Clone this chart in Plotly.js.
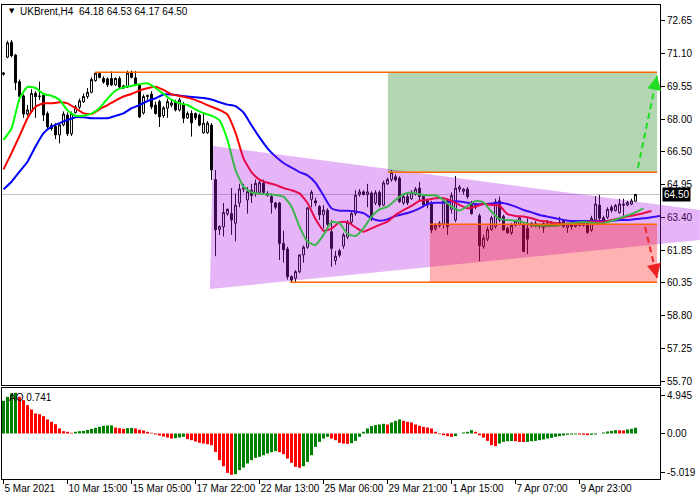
<!DOCTYPE html>
<html>
<head>
<meta charset="utf-8">
<script src="https://cdn.plot.ly/plotly-3.0.1.min.js"></script>
<style>
  html, body { margin: 0; padding: 0; background: #fff; }
  #chart { width: 700px; height: 500px; }
</style>
</head>
<body>
<div id="chart"></div>
<script>
// UKBrent H4 candles, bar 0 = 5 Mar 2021
var open = [70.15, 70.95, 71.65, 71.05, 69.8, 69.13, 68.28, 68.4, 69.25, 69.1,
  69.17, 68.3, 67.75, 67.7, 67.3, 67.77, 68.23, 67.35, 68.35, 68.6,
  68.85, 69.1, 69.3, 69.85, 70.18, 69.95, 69.93, 69.95, 69.65, 69.95,
  69.6, 69.55, 70.2, 69.98, 69.64, 68.33, 69.1, 69.22, 68.7, 68.86,
  68.2, 68.55, 68.7, 68.86, 68.47, 68.75, 68.1, 68.31, 68.3, 68.23,
  67.4, 67.4, 67.76, 65.2, 62.85, 62.98, 63.6, 63.6, 63.15, 64.1,
  64.75, 64.24, 64.7, 64.56, 64.6, 65.03, 64.55, 64.4, 64.1, 64.1,
  62.2, 61.94, 60.64, 60.56, 60.87, 61.66, 62.02, 64.27, 64.2, 63.93,
  63.55, 63.75, 62.75, 61.4, 61.85, 62.08, 62.5, 63.2, 63.6, 64.5,
  64.62, 64.5, 64.57, 64.1, 64.6, 64.0, 65.0, 65.2, 65.33, 65.27,
  64.1, 64.4, 64.3, 64.5, 64.8, 64.4, 64.2, 64.1, 62.9, 63.15,
  63.1, 64.2, 63.8, 63.3, 64.75, 64.65, 64.75, 64.1, 63.9, 63.5,
  62.05, 62.4, 62.85, 63.0, 64.2, 63.46, 62.9, 62.7, 63.05, 63.1,
  63.07, 62.9, 63.05, 63.15, 63.0, 63.15, 63.15, 63.2, 63.1, 63.2,
  63.25, 62.95, 63.1, 63.0, 63.1, 63.05, 63.22, 62.83, 63.3, 64.0,
  63.4, 63.43, 63.9, 63.75, 63.65, 64.05, 64.0, 64.05, 64.18];
var high = [70.25, 71.72, 71.75, 71.1, 69.9, 69.2, 68.7, 69.45, 69.35, 69.8,
  69.25, 68.4, 67.85, 67.85, 67.85, 68.4, 68.35, 68.4, 68.7, 69.0,
  69.25, 69.5, 70.0, 70.25, 70.25, 70.05, 70.0, 70.28, 70.0, 70.05,
  69.65, 70.32, 70.32, 70.3, 69.7, 69.2, 69.2, 69.35, 68.86, 68.95,
  68.65, 69.0, 68.95, 68.95, 69.05, 68.85, 68.4, 68.45, 68.35, 68.3,
  68.3, 67.95, 67.85, 65.65, 63.05, 64.1, 63.85, 64.8, 64.55, 65.0,
  65.0, 64.85, 65.0, 65.2, 65.2, 65.2, 64.65, 64.55, 64.15, 64.15,
  62.8, 62.05, 60.7, 60.95, 61.7, 62.1, 63.9, 64.7, 64.35, 64.0,
  64.0, 63.85, 63.3, 61.85, 61.95, 62.7, 63.3, 63.7, 64.7, 64.75,
  64.7, 65.0, 64.65, 64.7, 64.7, 65.15, 65.3, 65.65, 65.45, 65.35,
  64.5, 64.55, 64.7, 64.85, 65.1, 64.5, 64.3, 64.2, 63.15, 63.25,
  64.3, 64.3, 64.6, 65.37, 64.95, 64.8, 64.85, 64.2, 64.1, 63.6,
  62.6, 63.0, 63.5, 64.3, 64.4, 63.55, 63.0, 63.15, 63.3, 63.5,
  63.15, 63.4, 63.2, 63.25, 63.15, 63.2, 63.3, 63.25, 63.2, 63.45,
  63.3, 63.15, 63.2, 63.15, 63.2, 63.25, 63.3, 63.5, 64.43, 64.48,
  63.5, 63.9, 64.0, 64.05, 64.3, 64.3, 64.2, 64.3, 64.53];
var low = [70.08, 70.9, 70.95, 69.4, 68.86, 68.1, 68.2, 68.35, 68.1, 68.94,
  67.95, 67.6, 67.5, 67.1, 66.9, 67.7, 67.25, 67.25, 68.3, 68.5,
  68.8, 69.0, 69.25, 69.8, 69.95, 69.7, 69.55, 69.6, 69.6, 69.5,
  69.45, 69.5, 69.95, 69.6, 68.1, 68.25, 68.95, 68.5, 68.25, 67.67,
  68.1, 68.1, 68.6, 68.4, 68.4, 67.85, 68.05, 67.22, 68.0, 67.7,
  67.35, 67.35, 65.18, 61.6, 62.6, 62.53, 63.5, 62.6, 62.3, 63.9,
  64.6, 63.6, 64.1, 64.4, 64.5, 64.5, 64.4, 63.6, 63.8, 61.42,
  61.3, 60.5, 60.36, 60.4, 60.8, 61.3, 61.95, 63.9, 63.95, 63.3,
  62.9, 63.0, 61.1, 61.2, 61.55, 61.95, 62.4, 63.1, 63.5, 64.4,
  64.45, 63.9, 63.25, 64.0, 63.9, 63.95, 64.95, 65.1, 65.1, 64.1,
  64.0, 64.0, 64.25, 64.45, 64.2, 63.9, 63.85, 62.69, 62.8, 62.95,
  62.9, 62.6, 63.6, 63.2, 64.6, 64.5, 64.3, 63.55, 63.8, 61.36,
  61.95, 62.3, 62.8, 62.9, 63.2, 62.8, 62.65, 62.6, 63.0, 63.05,
  61.8, 61.7, 62.95, 62.95, 62.9, 62.7, 63.1, 63.0, 63.0, 63.05,
  62.95, 62.7, 62.85, 62.95, 63.0, 63.0, 62.65, 62.75, 63.25, 63.3,
  63.15, 63.35, 63.65, 63.7, 63.6, 63.5, 63.95, 64.0, 64.17];
var close = [70.2, 71.62, 71.02, 69.75, 69.1, 68.28, 68.47, 69.25, 69.1, 69.12,
  68.23, 67.68, 67.6, 67.3, 67.77, 68.28, 67.35, 68.3, 68.6, 68.9,
  69.1, 69.3, 69.9, 70.2, 70.0, 69.78, 69.65, 69.65, 69.95, 69.55,
  69.5, 70.2, 70.0, 69.7, 68.14, 69.1, 69.15, 68.61, 68.3, 68.15,
  68.57, 68.86, 68.8, 68.47, 68.94, 68.08, 68.3, 67.86, 68.1, 67.76,
  67.85, 67.85, 65.65, 62.85, 62.99, 63.65, 63.8, 63.3, 64.0, 64.76,
  64.82, 64.63, 64.45, 65.02, 65.05, 64.6, 64.45, 64.12, 63.9, 62.2,
  61.9, 60.64, 60.48, 60.87, 61.66, 62.02, 63.87, 64.6, 64.1, 63.54,
  63.77, 63.1, 61.97, 61.6, 61.65, 62.6, 63.2, 63.6, 64.47, 64.62,
  64.5, 64.62, 63.4, 64.58, 64.0, 65.04, 65.2, 65.53, 65.18, 64.16,
  64.4, 64.1, 64.6, 64.75, 64.4, 64.0, 64.0, 62.83, 63.05, 63.05,
  64.2, 63.0, 64.45, 64.8, 64.85, 64.75, 64.4, 63.6, 64.0, 62.1,
  62.45, 62.85, 63.4, 64.15, 63.3, 62.83, 62.7, 63.05, 63.25, 63.4,
  61.82, 62.4, 63.15, 63.05, 63.1, 62.95, 63.25, 63.1, 63.15, 63.15,
  63.0, 63.1, 63.0, 63.1, 63.05, 63.2, 62.72, 63.38, 64.05, 63.38,
  63.25, 63.8, 63.75, 63.98, 64.05, 64.0, 64.13, 64.2, 64.5];

// Alligator lines read every 2 bars (bars 0, 2, 4 ... 166), shifted forward
var lipsGreen = [67.06, 67.6, 69.0, 69.55, 69.5, 69.22, 69.14, 68.95, 68.45, 68.2,
  68.2, 68.3, 68.55, 69.0, 69.38, 69.53, 69.6, 69.68, 69.72, 69.5,
  69.22, 68.95, 68.78, 68.7, 68.5, 68.32, 68.2, 67.98, 67.06, 65.65,
  64.87, 64.59, 64.54, 64.5, 64.48, 64.4, 63.93, 62.99, 62.28, 62.13,
  62.6, 63.2, 63.15, 62.65, 62.55, 62.91, 63.46, 63.8, 63.93, 64.24,
  64.51, 64.59, 64.51, 64.46, 64.46, 64.24, 63.93, 63.75, 63.95, 64.2,
  64.13, 63.69, 63.35, 63.3, 63.28, 63.2, 63.07, 63.02, 63.02, 63.02,
  63.1, 63.15, 63.2, 63.2, 63.15, 63.15, 63.25, 63.38, 63.52, 63.66,
  63.85, null, null, null];
var teethRed = [65.68, 66.44, 67.25, 68.08, 68.62, 68.78, 68.78, 68.83, 68.78, 68.55,
  68.31, 68.28, 68.5, 68.7, 68.91, 69.1, 69.22, 69.38, 69.49, 69.56,
  69.41, 69.2, 69.13, 69.05, 68.93, 68.78, 68.62, 68.47, 68.25, 67.4,
  66.2, 65.55, 65.2, 65.05, 64.95, 64.8, 64.7, 64.55, 64.1, 63.35,
  62.8, 62.9, 63.2, 63.2, 62.96, 62.75, 62.91, 63.07, 63.22, 63.54,
  63.77, 63.96, 64.2, 64.25, 64.32, 64.32, 64.2, 64.01, 63.85, 63.93,
  64.05, 64.01, 63.97, 63.58, 63.49, 63.46, 63.38, 63.27, 63.22, 63.15,
  63.12, 63.14, 63.14, 63.22, 63.22, 63.22, 63.3, 63.38, 63.46, 63.54,
  63.62, 63.72, null, null];
var jawBlue = [64.74, 65.1, 65.57, 66.04, 66.75, 67.38, 67.69, 67.85, 68.0, 68.13,
  68.13, 68.08, 68.08, 68.08, 68.19, 68.31, 68.55, 68.7, 68.89, 69.02,
  69.2, 69.2, 69.15, 69.1, 69.07, 69.03, 68.96, 68.83, 68.72, 68.65,
  68.35, 67.75, 67.18, 66.67, 66.28, 65.98, 65.76, 65.55, 65.4, 65.05,
  64.45, 63.85, 63.74, 63.74, 63.7, 63.62, 63.38, 63.27, 63.33, 63.49,
  63.58, 63.69, 63.85, 64.05, 64.11, 64.11, 64.17, 64.17, 64.11, 64.05,
  64.05, 64.08, 64.12, 64.05, 63.93, 63.77, 63.66, 63.54, 63.46, 63.38,
  63.3, 63.25, 63.25, 63.25, 63.25, 63.25, 63.27, 63.3, 63.3, 63.35,
  63.38, 63.43, 63.49, 63.55];

// Awesome Oscillator, one value per bar
var ao = [4.22, 4.73, 5.16, 5.25, 4.73, 4.30, 3.66, 3.10, 2.58, 2.49,
  2.24, 1.81, 1.51, 1.20, 0.65, 0.30, 0.22, 0.09, 0.22, 0.30,
  0.34, 0.47, 0.60, 0.73, 0.86, 0.99, 1.03, 1.05, 0.77, 0.69,
  0.60, 0.69, 0.71, 0.65, 0.47, 0.39, 0.22, 0.09, -0.13, -0.26,
  -0.39, -0.52, -0.65, -0.60, -0.52, -0.43, -0.73, -0.86, -1.03, -1.20,
  -1.29, -1.38, -1.51, -2.37, -3.44, -4.22, -5.08, -5.33, -5.25, -4.73,
  -4.39, -3.87, -3.44, -3.14, -3.01, -2.80, -2.58, -2.41, -2.28, -2.41,
  -2.67, -3.23, -3.78, -4.30, -4.43, -4.22, -3.66, -2.80, -1.72, -1.08,
  -0.65, -0.43, -0.65, -0.86, -1.20, -1.29, -1.33, -1.25, -0.95, -0.43,
  0.22, 0.65, 0.95, 1.08, 1.16, 1.25, 1.16, 1.42, 1.63, 1.81,
  1.63, 1.51, 1.42, 1.16, 0.99, 0.86, 0.77, 0.65, 0.22, -0.09,
  -0.22, -0.34, -0.43, -0.34, 0.02, 0.13, 0.22, 0.43, 0.22, -0.22,
  -0.52, -0.95, -1.51, -1.63, -1.29, -1.08, -0.99, -0.97, -0.99, -1.08,
  -1.10, -1.08, -0.99, -0.95, -0.86, -0.77, -0.65, -0.56, -0.43, -0.34,
  -0.26, -0.17, -0.13, -0.11, -0.13, -0.17, -0.22, -0.17, -0.13, 0.01,
  0.13, 0.26, 0.34, 0.43, 0.41, 0.39, 0.52, 0.60, 0.74];

var tickBars = [0, 16, 32, 48, 64, 80, 96, 112, 128, 144];
var tickText = ['5 Mar 2021', '10 Mar 15:00', '15 Mar 05:00', '17 Mar 22:00', '22 Mar 13:00',
  '25 Mar 06:00', '29 Mar 21:00', '1 Apr 15:00', '7 Apr 07:00', '9 Apr 23:00'];
var priceTicks = [72.65, 71.10, 69.55, 68.00, 66.50, 64.95, 63.40, 61.85, 60.35, 58.80, 57.25, 55.70];
var aoTicks = [4.945, 0, -5.019];
var aoTickText = ['4.945', '0.00', '-5.019'];

// Drawn objects on the chart (bar index, price)
var levelFrom = [22.9, 96.1, 106.6, 71.6];
var levelTo = [163.4, 163.4, 163.4, 163.4];
var levelPrice = [70.24, 65.54, 63.10, 60.38];
var targetBox = [96.1, 163.4, 65.54, 70.24];
var stopBox = [106.6, 163.4, 60.38, 63.10];
var wedgeBars = [52.4, 174.1, 174.1, 51.6];
var wedgePrices = [66.78, 63.77, 62.36, 60.06];
var upArrow = [158.6, 65.75, 163.4, 70.07];
var downArrow = [160.4, 62.97, 163.4, 60.58];
var lastPrice = 64.50;

var xMin = -0.375, xMax = 164.125;
var bars = close.map(function (_, i) { return i; });
var maX = jawBlue.map(function (_, i) { return i * 2; });
var aoColors = ao.map(function (v, i) {
  return (i === 0 || v >= ao[i - 1]) ? '#008000' : '#ff0000';
});

var font = {family: 'Liberation Sans, Arial, sans-serif', size: 10, color: '#000'};

var data = [
  {
    type: 'candlestick', x: bars, open: open, high: high, low: low, close: close,
    xaxis: 'x', yaxis: 'y', whiskerwidth: 0,
    increasing: {line: {color: '#000', width: 1}, fillcolor: '#fff'},
    decreasing: {line: {color: '#000', width: 1}, fillcolor: '#000'},
    hoverinfo: 'skip'
  },
  {type: 'scatter', mode: 'lines', x: maX, y: jawBlue, xaxis: 'x', yaxis: 'y',
    line: {color: '#0000ff', width: 2, shape: 'spline', smoothing: 0.5}},
  {type: 'scatter', mode: 'lines', x: maX, y: teethRed, xaxis: 'x', yaxis: 'y',
    line: {color: '#ff0000', width: 2, shape: 'spline', smoothing: 0.5}},
  {type: 'scatter', mode: 'lines', x: maX, y: lipsGreen, xaxis: 'x', yaxis: 'y',
    line: {color: '#00ff00', width: 2, shape: 'spline', smoothing: 0.5}},
  {type: 'bar', x: bars, y: ao, xaxis: 'x2', yaxis: 'y2', width: 0.75,
    marker: {color: aoColors, line: {width: 0}}}
];

function toPaper(b) { return (b - xMin) / (xMax - xMin); }

var wedgePath = 'M' + wedgeBars.map(function (b, i) {
  return toPaper(b) + ',' + wedgePrices[i];
}).join(' L') + ' Z';

var shapes = [
  {type: 'line', xref: 'paper', yref: 'y', x0: 0, x1: 1, y0: lastPrice, y1: lastPrice,
    layer: 'below', line: {color: '#c0c0c0', width: 1}},
  {type: 'path', xref: 'paper', yref: 'y', path: wedgePath, layer: 'above',
    fillcolor: 'rgb(178,31,231)', opacity: 0.33, line: {width: 0}},
  {type: 'rect', xref: 'x', yref: 'y', x0: targetBox[0], x1: targetBox[1], y0: targetBox[2], y1: targetBox[3],
    layer: 'above', fillcolor: 'rgb(0,120,0)', opacity: 0.3, line: {width: 0}},
  {type: 'rect', xref: 'x', yref: 'y', x0: stopBox[0], x1: stopBox[1], y0: stopBox[2], y1: stopBox[3],
    layer: 'above', fillcolor: 'rgb(255,0,0)', opacity: 0.3, line: {width: 0}}
];
levelPrice.forEach(function (p, i) {
  shapes.push({type: 'line', xref: 'x', yref: 'y', x0: levelFrom[i], x1: levelTo[i], y0: p, y1: p,
    layer: 'above', line: {color: 'rgb(255,102,0)', width: 1.5}});
});
shapes.push({type: 'line', xref: 'x', yref: 'y', x0: upArrow[0], y0: upArrow[1], x1: upArrow[2], y1: upArrow[3],
  layer: 'above', line: {color: '#22dd22', width: 2, dash: '6px,4px'}});
shapes.push({type: 'line', xref: 'x', yref: 'y', x0: downArrow[0], y0: downArrow[1], x1: downArrow[2], y1: downArrow[3],
  layer: 'above', line: {color: '#ee2222', width: 2, dash: '6px,4px'}});

var layout = {
  width: 700, height: 500,
  margin: {l: 2, r: 40, t: 5, b: 21},
  paper_bgcolor: '#fff', plot_bgcolor: '#fff',
  showlegend: false, hovermode: false,
  font: font,
  xaxis: {
    domain: [0, 1], anchor: 'y', range: [xMin, xMax],
    showline: true, mirror: true, linecolor: '#000', linewidth: 1,
    showgrid: false, zeroline: false, showticklabels: false, ticks: '',
    rangeslider: {visible: false}
  },
  xaxis2: {
    domain: [0, 1], anchor: 'y2', range: [xMin, xMax], matches: 'x',
    showline: true, mirror: true, linecolor: '#000', linewidth: 1,
    showgrid: false, zeroline: false,
    tickmode: 'array', tickvals: tickBars, ticktext: tickText, tickangle: 0,
    ticks: 'outside', ticklen: 4, tickcolor: '#000',
    ticklabelposition: 'outside right', tickfont: font
  },
  yaxis: {
    domain: [0.1983, 1], anchor: 'x', side: 'right', range: [55.55, 73.40],
    showline: true, mirror: true, linecolor: '#000', linewidth: 1,
    showgrid: false, zeroline: false,
    tickmode: 'array', tickvals: priceTicks,
    ticktext: priceTicks.map(function (v) { return v.toFixed(2); }),
    ticks: 'outside', ticklen: 4, tickcolor: '#000', tickfont: font
  },
  yaxis2: {
    domain: [0, 0.192], anchor: 'x2', side: 'right', range: [-5.87, 5.87],
    showline: true, mirror: true, linecolor: '#000', linewidth: 1,
    showgrid: false, zeroline: false,
    tickmode: 'array', tickvals: aoTicks, ticktext: aoTickText,
    ticks: 'outside', ticklen: 4, tickcolor: '#000', tickfont: font
  },
  shapes: shapes,
  annotations: [
    {xref: 'paper', yref: 'paper', x: 0.008, y: 0.988, xanchor: 'left', yanchor: 'middle',
      text: '\u25BC', showarrow: false, font: {family: 'DejaVu Sans', size: 7, color: '#000'}},
    {xref: 'paper', yref: 'paper', x: 0.0245, y: 0.987, xanchor: 'left', yanchor: 'middle',
      text: 'UKBrent,H4  64.18 64.53 64.17 64.50', showarrow: false, font: font},
    {xref: 'paper', yref: 'paper', x: 0.008, y: 0.172, xanchor: 'left', yanchor: 'middle',
      text: 'AO 0.741', showarrow: false, font: font},
    {xref: 'paper', yref: 'y', x: 1, y: lastPrice, xanchor: 'left', yanchor: 'middle', xshift: 2,
      text: lastPrice.toFixed(2), showarrow: false, bgcolor: '#000', borderpad: 1,
      font: {family: font.family, size: 10, color: '#fff'}},
    {xref: 'x', yref: 'y', x: upArrow[2], y: upArrow[3], ax: -2.9, ay: 13.7, text: '',
      showarrow: true, arrowhead: 2, arrowsize: 1.4, arrowwidth: 2, arrowcolor: '#22dd22'},
    {xref: 'x', yref: 'y', x: downArrow[2], y: downArrow[3], ax: -3.2, ay: -13.6, text: '',
      showarrow: true, arrowhead: 2, arrowsize: 1.4, arrowwidth: 2, arrowcolor: '#ee2222'}
  ]
};

Plotly.newPlot('chart', data, layout, {staticPlot: true, displayModeBar: false});
</script>
</body>
</html>
